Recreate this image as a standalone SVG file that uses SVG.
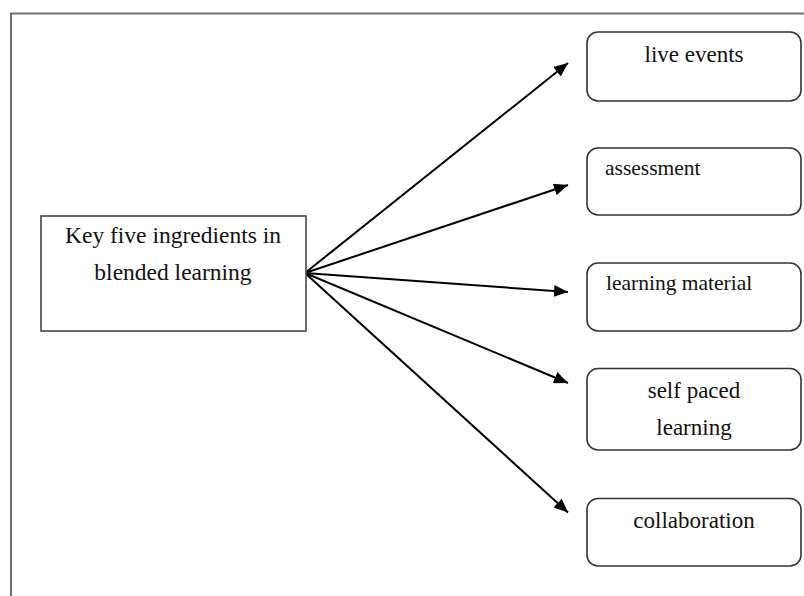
<svg xmlns="http://www.w3.org/2000/svg" width="804" height="596" viewBox="0 0 804 596">
  <style>
    .frame { fill: none; stroke: #6e6e6e; stroke-width: 2; }
    .hub { fill: #ffffff; stroke: #444444; stroke-width: 1.6; }
    .leaf { fill: #ffffff; stroke: #333333; stroke-width: 1.6; }
    .label { font-family: "Liberation Serif", "Times New Roman", serif; font-size: 23px; fill: #111111; }
    .big { font-size: 23.5px; }
    .small { font-size: 21.5px; }
    .mid { text-anchor: middle; }
    .link { stroke: #000000; stroke-width: 2; fill: none; marker-end: url(#arrow); }
  </style>
  <defs>
    <marker id="arrow" markerUnits="userSpaceOnUse" markerWidth="14" markerHeight="12" refX="14" refY="6" orient="auto">
      <path d="M0,0 L14,6 L0,12 z" fill="#000000"/>
    </marker>
  </defs>

  <rect width="804" height="596" fill="#ffffff"/>
  <!-- outer frame, running past the right and bottom edges -->
  <rect class="frame" x="11" y="13.5" width="820" height="620"/>

  <g id="connectors">
    <line class="link" x1="305" y1="273" x2="568" y2="63"/>
    <line class="link" x1="305" y1="273" x2="568" y2="185"/>
    <line class="link" x1="305" y1="273" x2="568" y2="292"/>
    <line class="link" x1="305" y1="273" x2="568" y2="383"/>
    <line class="link" x1="305" y1="273" x2="568" y2="512.5"/>
  </g>

  <g id="key-ingredients">
    <rect class="hub" x="41" y="216" width="265" height="115"/>
    <text class="label big mid" x="173" y="243">Key five ingredients in</text>
    <text class="label big mid" x="173" y="280">blended learning</text>
  </g>

  <g id="live-events">
    <rect class="leaf" x="587" y="32" width="214" height="69" rx="11"/>
    <text class="label mid" x="694" y="62">live events</text>
  </g>

  <g id="assessment">
    <rect class="leaf" x="587" y="148" width="214" height="67" rx="11"/>
    <text class="label small" x="605" y="175">assessment</text>
  </g>

  <g id="learning-material">
    <rect class="leaf" x="587" y="263" width="214" height="68" rx="11"/>
    <text class="label small" x="606" y="290">learning material</text>
  </g>

  <g id="self-paced-learning">
    <rect class="leaf" x="587" y="368.5" width="214" height="81.5" rx="11"/>
    <text class="label mid" x="694" y="398">self paced</text>
    <text class="label mid" x="694" y="435">learning</text>
  </g>

  <g id="collaboration">
    <rect class="leaf" x="587" y="498.5" width="214" height="67.5" rx="11"/>
    <text class="label mid" x="694" y="528">collaboration</text>
  </g>
</svg>
